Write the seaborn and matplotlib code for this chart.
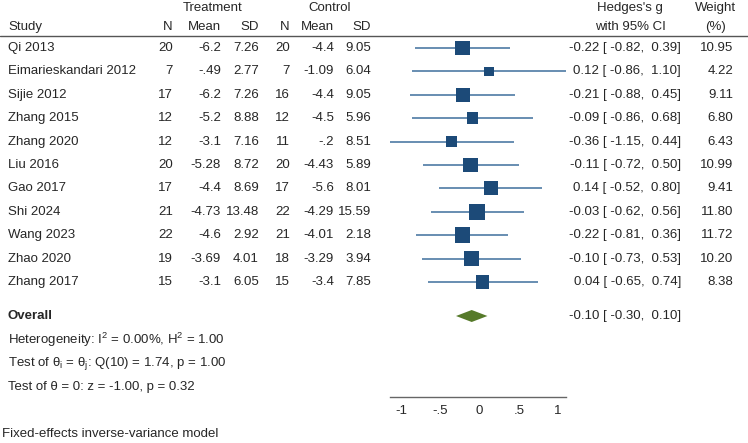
import numpy as np
import pandas as pd
import matplotlib
matplotlib.use("Agg")
import matplotlib.pyplot as plt
import seaborn as sns

# study data
studies = ["Qi 2013", "Eimarieskandari 2012", "Sijie 2012", "Zhang 2015", "Zhang 2020",
           "Liu 2016", "Gao 2017", "Shi 2024", "Wang 2023", "Zhao 2020", "Zhang 2017"]
n_t = ["20", "7", "17", "12", "12", "20", "17", "21", "22", "19", "15"]
mean_t = ["-6.2", "-.49", "-6.2", "-5.2", "-3.1", "-5.28", "-4.4", "-4.73", "-4.6", "-3.69", "-3.1"]
sd_t = ["7.26", "2.77", "7.26", "8.88", "7.16", "8.72", "8.69", "13.48", "2.92", "4.01", "6.05"]
n_c = ["20", "7", "16", "12", "11", "20", "17", "22", "21", "18", "15"]
mean_c = ["-4.4", "-1.09", "-4.4", "-4.5", "-.2", "-4.43", "-5.6", "-4.29", "-4.01", "-3.29", "-3.4"]
sd_c = ["9.05", "6.04", "9.05", "5.96", "8.51", "5.89", "8.01", "15.59", "2.18", "3.94", "7.85"]
g = [-0.22, 0.12, -0.21, -0.09, -0.36, -0.11, 0.14, -0.03, -0.22, -0.10, 0.04]
lo = [-0.82, -0.86, -0.88, -0.86, -1.15, -0.72, -0.52, -0.62, -0.81, -0.73, -0.65]
hi = [0.39, 1.10, 0.45, 0.68, 0.44, 0.50, 0.80, 0.56, 0.36, 0.53, 0.74]
weight = [10.95, 4.22, 9.11, 6.80, 6.43, 10.99, 9.41, 11.80, 11.72, 10.20, 8.38]
overall_g, overall_lo, overall_hi = -0.10, -0.30, 0.10
xticks = [-1, -0.5, 0, 0.5, 1]
xtick_labels = ["-1", "-.5", "0", ".5", "1"]

sns.set_style("white")
plt.rcParams["font.family"] = ["Liberation Sans", "DejaVu Sans"]
plt.rcParams["mathtext.fontset"] = "custom"
plt.rcParams["mathtext.rm"] = "Liberation Sans"
plt.rcParams["mathtext.it"] = "Liberation Sans:italic"
fs = 9.5

W, H = 748, 443
fig = plt.figure(figsize=(W / 100, H / 100), dpi=100)

# background axes in pixel units for the table text
bg = fig.add_axes([0, 0, 1, 1])
bg.set_xlim(0, W)
bg.set_ylim(H, 0)
bg.axis("off")

row_y = 48 + 23.4 * np.arange(len(studies))
y_overall = 316

df = pd.DataFrame({"study": studies, "g": g, "lo": lo, "hi": hi, "weight": weight, "y": row_y})

# forest axes: x in effect units, y in the same pixel units as bg
ax = fig.add_axes([390 / W, (H - 397) / H, 176 / W, (397 - 36) / H])
ax.set_xlim(-1.14, 1.10)
ax.set_ylim(397, 36)
ax.patch.set_alpha(0)

blue = "#1c4a78"
ax.hlines(df["y"], df["lo"], df["hi"], color="#3f6f9c", lw=1.1, zorder=1)
k = 10.6
sns.scatterplot(data=df, x="g", y="y", size="weight", marker="s", color=blue,
                sizes=(k * min(weight), k * max(weight)), size_norm=(min(weight), max(weight)),
                linewidth=0, legend=False, ax=ax, zorder=2)
ax.fill([overall_lo, overall_g, overall_hi, overall_g],
        [y_overall, y_overall - 6, y_overall, y_overall + 6], color="#567a2a", lw=0)

ax.set_xticks(xticks)
ax.set_xticklabels(xtick_labels, fontsize=fs)
ax.set_yticks([])
ax.set_xlabel("")
ax.set_ylabel("")
for s in ["top", "left", "right"]:
    ax.spines[s].set_visible(False)
ax.spines["bottom"].set_color("#666666")
ax.spines["bottom"].set_linewidth(1)
ax.tick_params(axis="x", direction="out", length=3, width=1, color="#666666", pad=3)

# header
bg.text(213, 8, "Treatment", ha="center", va="center", fontsize=fs)
bg.text(330, 8, "Control", ha="center", va="center", fontsize=fs)
bg.text(630, 8, "Hedges's g", ha="center", va="center", fontsize=fs)
bg.text(716, 8, "Weight", ha="center", va="center", fontsize=fs)
bg.text(8, 27, "Study", ha="left", va="center", fontsize=fs)
col_x = [173, 221, 259, 290, 334, 371]
for x, lab in zip(col_x, ["N", "Mean", "SD", "N", "Mean", "SD"]):
    bg.text(x, 27, lab, ha="right", va="center", fontsize=fs)
bg.text(630, 27, "with 95% CI", ha="center", va="center", fontsize=fs)
bg.text(716, 27, "(%)", ha="center", va="center", fontsize=fs)
bg.plot([0, W], [36, 36], color="#555555", lw=1)

# study rows
for i, y in enumerate(row_y):
    bg.text(8, y, studies[i], ha="left", va="center", fontsize=fs)
    for x, col in zip(col_x, [n_t, mean_t, sd_t, n_c, mean_c, sd_c]):
        bg.text(x, y, col[i], ha="right", va="center", fontsize=fs)
    bg.text(681, y, f"{g[i]:.2f} [{lo[i]:6.2f}, {hi[i]:5.2f}]", ha="right", va="center", fontsize=fs)
    bg.text(733, y, f"{weight[i]:.2f}", ha="right", va="center", fontsize=fs)

bg.text(8, y_overall, "Overall", ha="left", va="center", fontsize=fs, fontweight="bold")
bg.text(681, y_overall, f"{overall_g:.2f} [{overall_lo:6.2f}, {overall_hi:5.2f}]",
        ha="right", va="center", fontsize=fs)
bg.text(8, 340, "Heterogeneity: I$^2$ = 0.00%, H$^2$ = 1.00", ha="left", va="center", fontsize=fs)
bg.text(8, 364, "Test of θ$_\\mathrm{i}$ = θ$_\\mathrm{j}$: Q(10) = 1.74, p = 1.00",
        ha="left", va="center", fontsize=fs)
bg.text(8, 387, "Test of θ = 0: z = -1.00, p = 0.32", ha="left", va="center", fontsize=fs)
bg.text(2, 434, "Fixed-effects inverse-variance model", ha="left", va="center", fontsize=fs)

fig.savefig("out.png", dpi=100)
